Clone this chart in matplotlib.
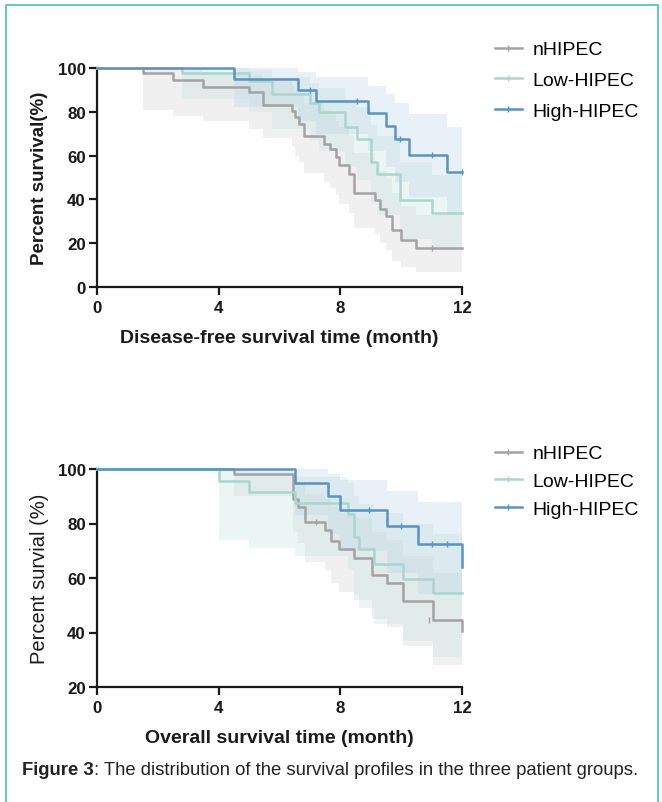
import matplotlib
matplotlib.use("Agg")
import matplotlib.pyplot as plt
from matplotlib.lines import Line2D
from matplotlib.patches import Rectangle

plt.rcParams['font.family'] = ['Liberation Sans', 'DejaVu Sans']

groups = ["nHIPEC", "Low-HIPEC", "High-HIPEC"]
line_colors = ["#a3a3a3", "#a9d6cf", "#5a93c2"]
band_colors = ["#cfcfcf", "#bfe0da", "#b7d2e8"]

# ---- Disease-free survival (top) ----
dfs_n_t = [0, 1.5, 2.5, 3.5, 5.0, 5.45, 6.4, 6.5, 6.65, 6.8, 7.45, 7.65, 7.85, 7.95, 8.3, 8.45, 9.15, 9.3, 9.5, 9.7, 10.0, 10.5, 12]
dfs_n_s = [100, 97.5, 94.5, 91.5, 89, 83, 80.5, 77.5, 74.5, 69, 65.5, 63, 59.5, 55.5, 51.5, 43, 39.5, 35.5, 32.5, 26, 21.5, 18, 18]
dfs_n_lo = [100, 81, 78, 76, 72, 68, 64, 60, 57, 52, 48, 45, 42, 38, 34, 27, 24, 20, 17, 12, 9, 7, 7]
dfs_n_hi = [100, 100, 99, 98, 97, 94, 92, 90, 88, 84, 81, 79, 76, 73, 69, 61, 57, 53, 50, 43, 37, 33, 33]

dfs_l_t = [0, 2.8, 5.0, 5.75, 7.0, 7.3, 8.15, 8.55, 9.0, 9.2, 9.95, 11.0, 12]
dfs_l_s = [100, 97.5, 94, 88, 84, 80, 73, 67.5, 57, 51.5, 39.5, 34, 34]
dfs_l_lo = [100, 86, 80, 72, 67, 62, 55, 49, 39, 33, 22, 17, 17]
dfs_l_hi = [100, 100, 99, 96, 93, 91, 86, 82, 74, 69, 57, 51, 51]

dfs_h_t = [0, 4.5, 6.6, 7.2, 8.9, 9.5, 9.8, 10.25, 11.5, 12]
dfs_h_s = [100, 95, 90, 85, 79.5, 73.5, 67.5, 60.5, 52.5, 52.5]
dfs_h_lo = [100, 82, 76, 70, 62, 55, 48, 41, 33, 33]
dfs_h_hi = [100, 100, 98, 96, 92, 88, 84, 79, 73, 73]

dfs_cens_t = [[11.0], [], [7.0, 8.55, 9.97, 11.0, 12.0]]
dfs_cens_s = [[18], [], [90, 85, 67.5, 60.5, 52.5]]

# ---- Overall survival (bottom) ----
os_n_t = [0, 4.5, 6.45, 6.6, 6.85, 7.5, 7.7, 7.95, 8.45, 9.05, 9.55, 10.05, 11.05, 12, 12]
os_n_s = [100, 98, 89, 86, 80.5, 77.5, 73.5, 70.5, 67.5, 61, 58, 51.5, 44.5, 40.5, 40.5]
os_n_lo = [100, 90, 77, 73, 66, 63, 58, 55, 52, 45, 42, 35, 28, 27, 27]
os_n_hi = [100, 100, 97, 95, 91, 89, 86, 84, 82, 77, 74, 68, 62, 60, 60]

os_l_t = [0, 4.0, 5.0, 6.5, 8.25, 8.45, 8.6, 9.1, 10.05, 11.05, 12]
os_l_s = [100, 95.5, 91.5, 87.5, 83.5, 75, 70.5, 65, 59.5, 54.5, 54.5]
os_l_lo = [100, 74, 71, 68, 63, 54, 49, 43, 37, 31, 31]
os_l_hi = [100, 100, 99, 97, 95, 90, 87, 84, 80, 76, 76]

os_h_t = [0, 6.5, 7.6, 8.0, 9.55, 10.55, 12, 12]
os_h_s = [100, 95, 90, 85, 79, 72.5, 64, 64]
os_h_lo = [100, 83, 76, 70, 62, 54, 44, 44]
os_h_hi = [100, 100, 98, 96, 92, 88, 88, 88]

os_cens_t = [[7.2, 10.9], [], [8.95, 10.0, 11.0, 11.5]]
os_cens_s = [[80.5, 44.5], [], [85, 79, 72.5, 72.5]]

x_ticks = [0, 4, 8, 12]

fig = plt.figure(figsize=(6.62, 8.03), dpi=100)

# figure frame
fig.add_artist(Rectangle((6/662, -0.05), (658-6)/662, 1.05 - 6/803,
                         transform=fig.transFigure, fill=False,
                         edgecolor="#3cc8b4", linewidth=1.2))


def style_axes(ax, ymin, yticks, xlabel, ylabel, ybold, ysize, ypad):
    ax.set_xlim(0, 12)
    ax.set_ylim(ymin, 100)
    ax.set_xticks(x_ticks)
    ax.set_yticks(yticks)
    for s in ["top", "right"]:
        ax.spines[s].set_visible(False)
    for s in ["left", "bottom"]:
        ax.spines[s].set_linewidth(1.6)
        ax.spines[s].set_color("#1a1a1a")
    ax.tick_params(direction="out", length=5.5, width=1.6, color="#1a1a1a",
                   labelsize=12.2, pad=2.5)
    ax.tick_params(axis="x", pad=4)
    for lab in ax.get_xticklabels() + ax.get_yticklabels():
        lab.set_fontweight("bold")
        lab.set_color("#1a1a1a")
    ax.set_xlabel(xlabel, fontsize=14, fontweight="bold", color="#1a1a1a", labelpad=10)
    ax.set_ylabel(ylabel, fontsize=ysize, fontweight="bold" if ybold else "normal",
                  color="#1a1a1a", labelpad=ypad)


def draw(ax, series, cens_t, cens_s):
    for i, (t, s, lo, hi) in enumerate(series):
        ax.fill_between(t, lo, hi, step="post", color=band_colors[i], alpha=0.3,
                        linewidth=0, zorder=1)
    for i, (t, s, lo, hi) in enumerate(series):
        ax.step(t, s, where="post", color=line_colors[i], linewidth=1.8,
                clip_on=False, zorder=3 + i)
        if cens_t[i]:
            ax.plot(cens_t[i], cens_s[i], linestyle="none", marker="|",
                    markersize=5, markeredgewidth=1.0, color=line_colors[i], zorder=3 + i)


ax1 = fig.add_axes([97/662, 1 - 288/803, (462-97)/662, (288-69)/803])
draw(ax1, [(dfs_n_t, dfs_n_s, dfs_n_lo, dfs_n_hi),
           (dfs_l_t, dfs_l_s, dfs_l_lo, dfs_l_hi),
           (dfs_h_t, dfs_h_s, dfs_h_lo, dfs_h_hi)], dfs_cens_t, dfs_cens_s)
style_axes(ax1, 0, [0, 20, 40, 60, 80, 100], "Disease-free survival time (month)",
           "Percent survival(%)", True, 13.5, 7)

ax2 = fig.add_axes([97/662, 1 - 688/803, (462-97)/662, (688-470)/803])
draw(ax2, [(os_n_t, os_n_s, os_n_lo, os_n_hi),
           (os_l_t, os_l_s, os_l_lo, os_l_hi),
           (os_h_t, os_h_s, os_h_lo, os_h_hi)], os_cens_t, os_cens_s)
style_axes(ax2, 20, [20, 40, 60, 80, 100], "Overall survival time (month)",
           "Percent survial (%)", False, 14.5, 6)


def legend_handles():
    return [Line2D([0], [0], color=c, linewidth=1.8, marker="|", markersize=5,
                   markeredgewidth=1.0) for c in line_colors]


fig.legend(legend_handles(), groups, loc="upper left",
           bbox_to_anchor=(485/662, 1 - 32/803), frameon=False, fontsize=14,
           handlelength=1.4, handletextpad=0.55, labelspacing=0.68, borderpad=0)
fig.legend(legend_handles(), groups, loc="upper left",
           bbox_to_anchor=(485/662, 1 - 436/803), frameon=False, fontsize=14,
           handlelength=1.4, handletextpad=0.55, labelspacing=0.53, borderpad=0)

cap_y = 1 - 771/803
cap = fig.text(22/662, cap_y, "Figure 3", fontsize=13.3, fontweight="bold",
               va="center", ha="left", color="#222222")
fig.canvas.draw()
bb = cap.get_window_extent(renderer=fig.canvas.get_renderer())
fig.text(bb.x1 / fig.bbox.width, cap_y,
         ": The distribution of the survival profiles in the three patient groups.",
         fontsize=13.3, va="center", ha="left", color="#222222")

fig.savefig("out.png", dpi=100)
